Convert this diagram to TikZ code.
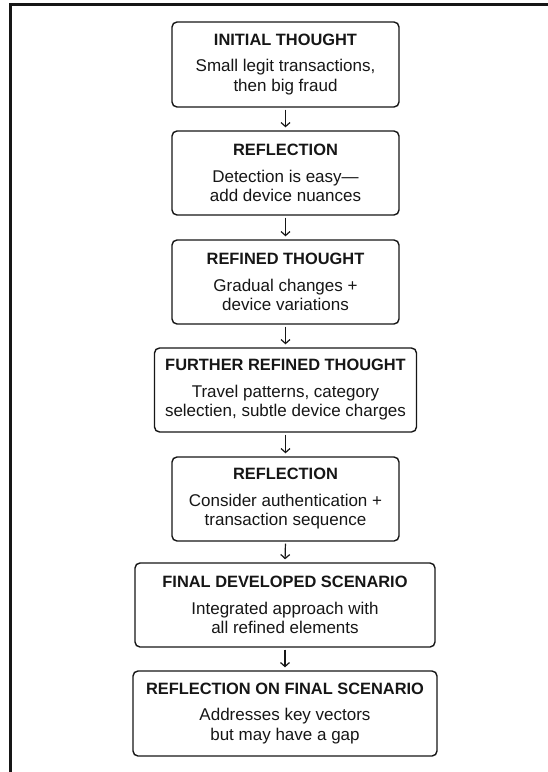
\documentclass[tikz,border=0pt]{standalone}
\usepackage{fontspec}
\setmainfont{Liberation Sans}
\usetikzlibrary{arrows.meta}
\definecolor{ink}{RGB}{22,22,22}
\tikzset{
  box/.style={draw=ink, line width=1.4pt, rounded corners=5pt, inner sep=0pt,
    minimum height=84pt, align=center, text=ink,
    font=\fontsize{17}{19.5}\selectfont},
  flow/.style={draw=ink, line width=1.2pt, -{Straight Barb[length=4pt,width=9pt,line width=1.2pt]}, shorten <=2pt, shorten >=3pt},
}
\newcommand{\ttl}[1]{{\fontsize{16.4}{19.5}\selectfont\bfseries #1}\\[7pt]}
\begin{document}
\begin{tikzpicture}[x=1pt,y=-1pt]
\useasboundingbox (0,0) rectangle (548,772);
\fill[white] (0,0) rectangle (548,772);
\draw[ink, line width=2.6pt] (10.5,775) -- (10.5,4.5) -- (551,4.5);

\node[box, minimum width=227pt, minimum height=85pt] (b1) at (285.5,64.5) {\ttl{INITIAL THOUGHT}Small legit transactions,\\then big fraud};
\node[box, minimum width=227pt] (b2) at (285.5,173) {\ttl{REFLECTION}Detection is easy—\\add device nuances};
\node[box, minimum width=227pt] (b3) at (285.5,282) {\ttl{REFINED THOUGHT}Gradual changes +\\device variations};
\node[box, minimum width=262pt] (b4) at (285.5,390) {\ttl{FURTHER REFINED THOUGHT}Travel patterns, category\\selectien, subtle device charges};
\node[box, minimum width=227pt] (b5) at (285.5,499) {\ttl{REFLECTION}Consider authentication +\\transaction sequence};
\node[box, minimum width=300pt] (b6) at (285,605) {\ttl{FINAL DEVELOPED SCENARIO}Integrated approach with\\all refined elements};
\node[box, minimum width=304pt, minimum height=85pt] (b7) at (285,713.5) {\ttl{REFLECTION ON FINAL SCENARIO}Addresses key vectors\\but may have a gap};

\draw[flow] (b1.south) -- (b2.north);
\draw[flow] (b2.south) -- (b3.north);
\draw[flow] (b3.south) -- (b4.north);
\draw[flow] (b4.south) -- (b5.north);
\draw[flow] (b5.south) -- (b6.north);
\draw[flow] (b6.south) -- (b7.north);
\end{tikzpicture}
\end{document}
